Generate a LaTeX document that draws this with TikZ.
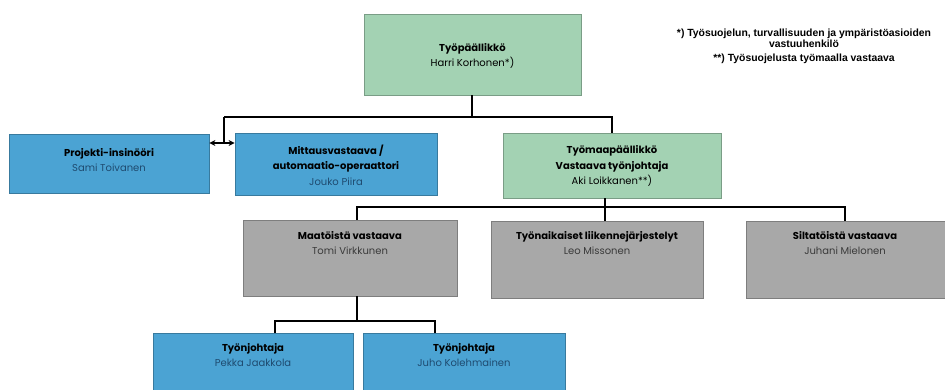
\documentclass[tikz,border=0pt]{standalone}
\usepackage{fontspec}
\setmainfont{Poppins}
\newfontfamily\notefont{Liberation Sans}
\usetikzlibrary{arrows.meta,calc}
\definecolor{boxgreen}{HTML}{A3D2B3}
\definecolor{boxgray}{HTML}{A8A8A8}
\definecolor{boxblue}{HTML}{4BA3D3}
\definecolor{namegray}{HTML}{3A3A3A}
\definecolor{nameblue}{HTML}{1F4B70}
\tikzset{
  orgbox/.style={rectangle, draw=#1!75!black, fill=#1, line width=0.8pt, inner sep=0pt},
  boxtext/.style={align=center, font=\fontsize{10}{15.5}\selectfont, inner sep=0pt},
  link/.style={line width=2.6pt, black},
  notetext/.style={align=center, font=\notefont\bfseries\fontsize{10.4}{11.5}\selectfont, inner sep=0pt}
}
\begin{document}
\begin{tikzpicture}[x=1pt,y=-1pt]
\useasboundingbox (0,0) rectangle (945,390);
\fill[white] (0,0) rectangle (945,390);
\begin{scope}
\clip (0,0) rectangle (945,390);
% boxes
\node[orgbox=boxgreen, minimum width=217pt, minimum height=81pt] (top) at (472.5,54.5) {};
\node[orgbox=boxblue, minimum width=200pt, minimum height=59pt] (proj) at (109,163.5) {};
\node[orgbox=boxblue, minimum width=202pt, minimum height=62pt] (mitt) at (336,164) {};
\node[orgbox=boxgreen, minimum width=218pt, minimum height=65pt] (tm) at (612,165.5) {};
\node[orgbox=boxgray, minimum width=214pt, minimum height=76pt] (g1) at (350,258) {};
\node[orgbox=boxgray, minimum width=212pt, minimum height=77pt] (g2) at (597,259.5) {};
\node[orgbox=boxgray, minimum width=201pt, minimum height=77pt] (g3) at (846.5,259.5) {};
\node[orgbox=boxblue, minimum width=200pt, minimum height=60pt] (b1) at (253,363) {};
\node[orgbox=boxblue, minimum width=202pt, minimum height=60pt] (b2) at (464,363) {};
\end{scope}
% texts
\node[boxtext] (topt) at (472.5,56) {\textbf{Työpäällikkö}\\ Harri Korhonen*)};
\node[boxtext] (projt) at (109,160) {\textbf{Projekti-insinööri}\\ \textcolor{nameblue}{Sami Toivanen}};
\node[boxtext] (mittt) at (336,165) {\textbf{Mittausvastaava /}\\ \textbf{automaatio-operaattori}\\ \textcolor{nameblue}{Jouko Piira}};
\node[boxtext] (tmt) at (612,166) {\textbf{Työmaapäällikkö}\\ \textbf{Vastaava työnjohtaja}\\ Aki Loikkanen**)};
\node[boxtext, anchor=north] (g1t) at (350,231) {\textbf{Maatöistä vastaava}\\ \textcolor{namegray}{Tomi Virkkunen}};
\node[boxtext, anchor=north] (g2t) at (597,231) {\textbf{Työnaikaiset liikennejärjestelyt}\\ \textcolor{namegray}{Leo Missonen}};
\node[boxtext, anchor=north] (g3t) at (845,231) {\textbf{Siltatöistä vastaava}\\ \textcolor{namegray}{Juhani Mielonen}};
\node[boxtext, anchor=north] (b1t) at (253,343) {\textbf{Työnjohtaja}\\ \textcolor{nameblue}{Pekka Jaakkola}};
\node[boxtext, anchor=north] (b2t) at (464,343) {\textbf{Työnjohtaja}\\ \textcolor{nameblue}{Juho Kolehmainen}};
% notes
\node[notetext] (note1) at (804,38.5) {*) Työsuojelun, turvallisuuden ja ympäristöasioiden\\ vastuuhenkilö};
\node[notetext] (note2) at (804,58.5) {**) Työsuojelusta työmaalla vastaava};
% connectors
\coordinate (j1) at (472,117);
\coordinate (j1l) at (224,117);
\coordinate (j2) at (224,143);
\draw[link] (top.south -| j1) -- (j1);
\draw[link] (j1l) -- (j1) -| (tm.north);
\draw[link] (j1l) -- (j2);
\draw[line width=2.2pt, -{Stealth[length=6pt,width=6pt]}] (j2) -- (proj.east |- j2);
\draw[line width=2.2pt, -{Stealth[length=6pt,width=6pt]}] (j2) -- (mitt.west |- j2);
\coordinate (s1) at (605,207);
\coordinate (s1l) at (357,207);
\coordinate (s1r) at (845,207);
\draw[link] (s1 |- tm.south) -- (s1 |- g2.north);
\draw[link] (s1l |- g1.north) -- (s1l) -- (s1r) -- (s1r |- g3.north);
\coordinate (k1) at (357,321);
\coordinate (k1l) at (275,321);
\coordinate (k1r) at (435,321);
\draw[link] (k1 |- g1.south) -- (k1);
\draw[link] (k1l |- b1.north) -- (k1l) -- (k1r) -- (k1r |- b2.north);
\end{tikzpicture}
\end{document}
